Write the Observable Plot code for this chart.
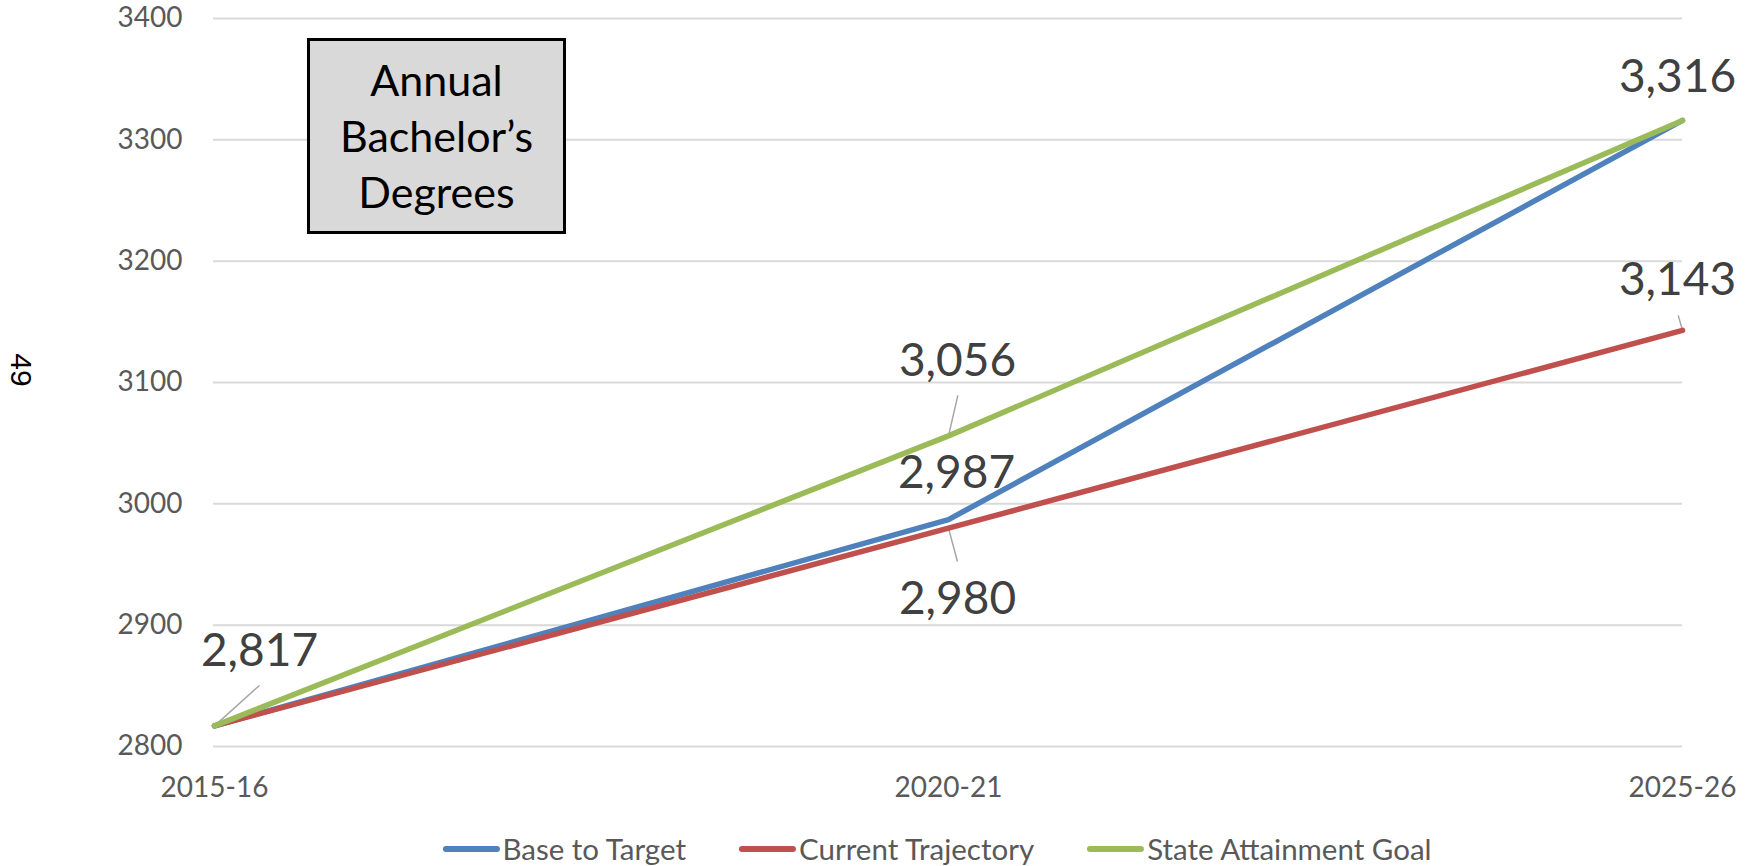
<!DOCTYPE html>
<html>
<head>
<meta charset="utf-8">
<script src="https://cdn.jsdelivr.net/npm/d3@7"></script>
<script src="https://cdn.jsdelivr.net/npm/@observablehq/plot@0.6"></script>
<style>
  html, body { margin: 0; padding: 0; background: #fff; }
  #wrap { position: relative; width: 1756px; height: 866px; overflow: hidden; font-family: Lato, "Open Sans", sans-serif; }
  #chart { position: absolute; left: 0; top: 0; }
  #titlebox {
    position: absolute; left: 307px; top: 38px; width: 253px; height: 190px;
    background: #d9d9d9; border: 3px solid #000;
    display: flex; align-items: center; justify-content: center; text-align: center;
    font-size: 43px; line-height: 56px; color: #000;
  }
  #pagenum {
    position: absolute; left: 21px; top: 370px; transform: translate(-50%, -50%) rotate(90deg);
    font-family: "Liberation Sans", Arial, sans-serif; font-size: 30px; color: #000;
  }
  #legend {
    position: absolute; left: 937px; top: 830px; transform: translateX(-50%);
    display: flex; align-items: center; white-space: nowrap;
    font-size: 29.5px; color: #595959; line-height: 38px;
  }
  .item { display: flex; align-items: center; margin: 0 26.5px; }
  .sw { display: inline-block; width: 57px; height: 6px; border-radius: 3px; margin-right: 3px; }
</style>
</head>
<body>
<div id="wrap">
  <div id="chart"></div>
  <div id="titlebox"><div>Annual<br>Bachelor’s<br>Degrees</div></div>
  <div id="pagenum">49</div>
  <div id="legend"></div>
</div>
<script>
// ---- data ----
const years = ["2015-16", "2020-21", "2025-26"];
const seriesNames = ["Base to Target", "Current Trajectory", "State Attainment Goal"];
const baseToTarget = [2817, 2987, 3316];
const currentTrajectory = [2817, 2980, 3143];
const stateAttainmentGoal = [2817, 3056, 3316];
const seriesColors = ["#4f81bd", "#c0504d", "#9bbb59"];
const yTicks = [2800, 2900, 3000, 3100, 3200, 3300, 3400];

const seriesValues = [baseToTarget, currentTrajectory, stateAttainmentGoal];
const table = [];
seriesNames.forEach((s, i) => years.forEach((yr, j) => table.push({series: s, year: yr, value: seriesValues[i][j]})));

const pick = (s, yr) => table.filter(d => d.series === seriesNames[s] && d.year === years[yr]);
const fmt = d3.format(",");

const label = (s, yr, dx, dy) => Plot.text(pick(s, yr), {
  x: "year", y: "value", text: d => fmt(d.value), dx, dy,
  fill: "#404040", fontSize: 46, textAnchor: "middle", lineAnchor: "middle"
});
const leaderShape = {draw(ctx, l) { ctx.moveTo(0, 0); ctx.lineTo(0, -l); }};
const leader = (s, yr, rotate, length) => Plot.vector(pick(s, yr), {
  x: "year", y: "value", rotate, length, anchor: "start", shape: leaderShape,
  stroke: "#a6a6a6", strokeWidth: 1.5
});

const chart = Plot.plot({
  width: 1756,
  height: 822,
  marginLeft: 213,
  marginRight: 74,
  marginTop: 18,
  marginBottom: 76,
  style: {fontFamily: "Lato, 'Open Sans', sans-serif", fontSize: "28px", color: "#595959", background: "transparent", overflow: "visible"},
  x: {type: "point", domain: years, padding: 0},
  y: {domain: [2800, 3400]},
  color: {domain: seriesNames, range: seriesColors},
  marks: [
    Plot.ruleY(yTicks, {stroke: "#d9d9d9", strokeWidth: 2}),
    Plot.axisY(yTicks, {tickSize: 0, tickPadding: 31, tickFormat: "d", label: null, fontSize: 28}),
    Plot.axisX({tickSize: 0, tickPadding: 31, label: null, fontSize: 28}),
    leader(2, 0, 48, 60),
    leader(2, 1, 13, 41),
    leader(1, 1, 165, 34),
    leader(1, 2, -16, 15),
    Plot.line(table, {x: "year", y: "value", z: "series", stroke: "series", strokeWidth: 5.5, strokeLinecap: "round", strokeLinejoin: "round"}),
    label(2, 0, 45, -75),
    label(2, 1, 9, -75),
    label(0, 1, 8, -46),
    label(1, 1, 9, 71),
    label(2, 2, -5, -43),
    label(1, 2, -5, -50)
  ]
});
document.getElementById("chart").appendChild(chart);

const legend = document.getElementById("legend");
seriesNames.forEach((s, i) => {
  const item = document.createElement("span");
  item.className = "item";
  const sw = document.createElement("span");
  sw.className = "sw";
  sw.style.background = seriesColors[i];
  const tx = document.createElement("span");
  tx.textContent = s;
  item.appendChild(sw); item.appendChild(tx);
  legend.appendChild(item);
});
</script>
</body>
</html>
